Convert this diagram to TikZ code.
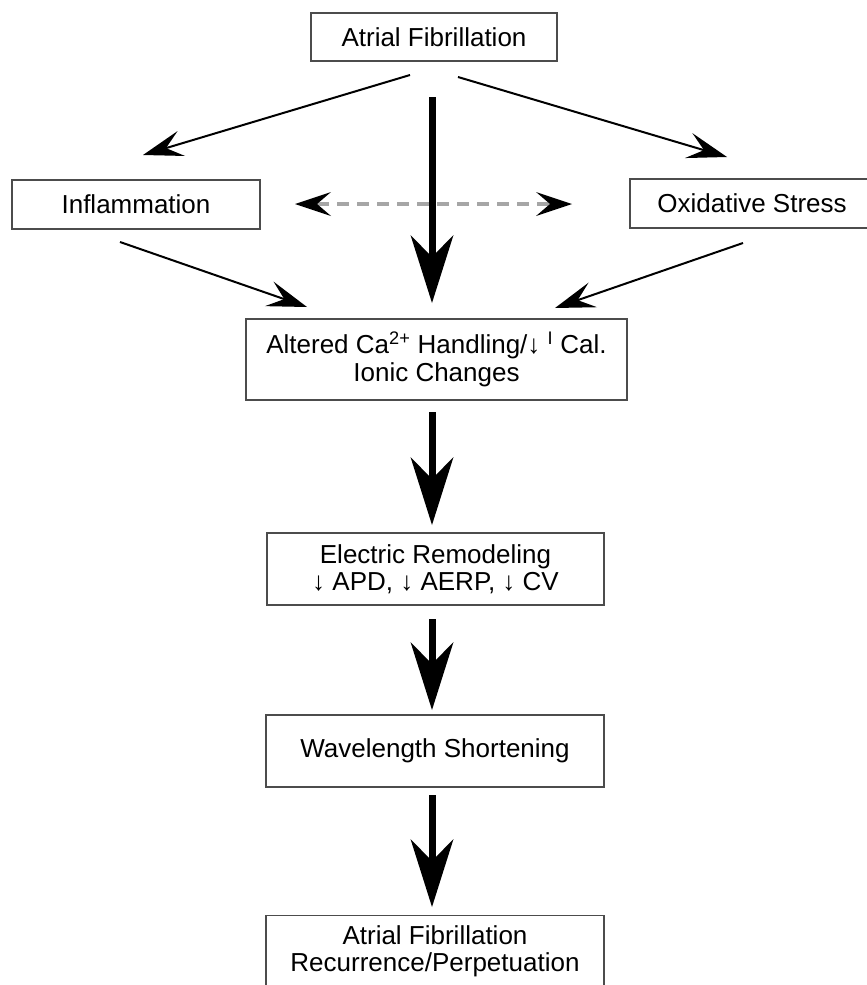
\documentclass[tikz,border=0pt]{standalone}
\usepackage{fontspec}
\setmainfont{Liberation Sans}
\usetikzlibrary{arrows.meta}
\begin{document}
\begin{tikzpicture}[x=1pt,y=-1pt,
  box/.style={draw=black!70,line width=1.6pt,fill=white,inner sep=0pt,align=center,
    font=\fontsize{26}{27.5}\selectfont},
  thin/.style={line width=2pt,-{Stealth[length=40pt,width=26pt,inset=16pt,line width=0pt]}},
  thick/.style={line width=7pt,-{Stealth[length=68pt,width=43pt,inset=22pt,line width=0pt]}},
  dashline/.style={draw=black!35,line width=3.5pt,dash pattern=on 12pt off 8pt,
    {Stealth[length=36pt,width=24pt,inset=14pt,line width=0pt,color=black]}-{Stealth[length=36pt,width=24pt,inset=14pt,line width=0pt,color=black]}}
]
\useasboundingbox (0,0) rectangle (867,985);
\node[box,minimum width=246pt,minimum height=48pt] (af) at (434,37) {Atrial Fibrillation};
\node[box,minimum width=248pt,minimum height=49pt] (infl) at (136,204.5) {Inflammation};
\node[box,minimum width=244pt,minimum height=49pt] (ox) at (752,203.5) {Oxidative Stress};
\node[box,minimum width=381pt,minimum height=81pt] (ca) at (436.5,359.5) {Altered Ca\textsuperscript{2+} Handling/↓ \textsuperscript{I} Cal.\\Ionic Changes};
\node[box,minimum width=337pt,minimum height=72pt] (el) at (435.5,569) {Electric Remodeling\\↓ APD, ↓ AERP, ↓ CV};
\node[box,minimum width=338pt,minimum height=72pt] (wl) at (435,751) {Wavelength Shortening};
\node[box,minimum width=338pt,minimum height=72pt] (fin) at (435,951.5) {Atrial Fibrillation\\Recurrence/Perpetuation};

\coordinate (a1s) at (410,75);  \coordinate (a1e) at (143,155);
\coordinate (a2s) at (458,77);  \coordinate (a2e) at (727,157);
\coordinate (a3s) at (120,242); \coordinate (a3e) at (307,307);
\coordinate (a4s) at (743,243); \coordinate (a4e) at (555,308);
\coordinate (t0s) at (432,97);  \coordinate (t0e) at (432,303);
\coordinate (t1s) at (432,412); \coordinate (t1e) at (432,525);
\coordinate (t2s) at (432,619); \coordinate (t2e) at (432,710);
\coordinate (t3s) at (432,795); \coordinate (t3e) at (432,907);
\coordinate (dl) at (295,204);  \coordinate (dr) at (572,204);

\draw[thin] (a1s) -- (a1e);
\draw[thin] (a2s) -- (a2e);
\draw[thin] (a3s) -- (a3e);
\draw[thin] (a4s) -- (a4e);
\draw[dashline] (dl) -- (dr);
\draw[thick] (t0s) -- (t0e);
\draw[thick] (t1s) -- (t1e);
\draw[thick] (t2s) -- (t2e);
\draw[thick] (t3s) -- (t3e);
\end{tikzpicture}
\end{document}
